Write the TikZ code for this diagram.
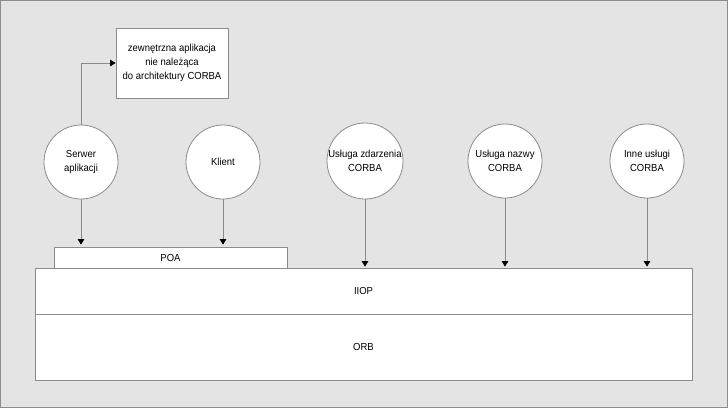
\documentclass[tikz,border=0pt]{standalone}
\usepackage{fontspec}
\setmainfont{Liberation Sans}[FakeStretch=0.93]
\usetikzlibrary{arrows.meta}
\definecolor{bgc}{HTML}{E4E4E4}
\definecolor{edgec}{HTML}{8C8C8C}
\definecolor{linec}{HTML}{8A8A8A}
\begin{document}
\begin{tikzpicture}[x=1pt,y=-1pt,
  every node/.style={font=\fontsize{10.2}{13.8}\selectfont},
  boxn/.style={draw=edgec,fill=white,inner sep=0pt,line width=0.8pt},
  circn/.style={draw=edgec,fill=white,circle,inner sep=0pt,minimum size=74pt,line width=0.8pt},
  arr/.style={draw=linec,line width=0.8pt,-{Triangle[width=6.5pt,length=5.5pt,fill=black,color=black]}},
  txt/.style={align=center,inner sep=0pt}]
\useasboundingbox (0,0) rectangle (728,408);
\draw[fill=bgc,draw=edgec,line width=1pt] (0.5,0.5) rectangle (727.5,407.5);
% external application box
\node[boxn,minimum width=112pt,minimum height=70pt,align=center] (ext) at (172,63)
  {zewnętrzna aplikacja\\nie należąca\\do architektury CORBA};
% layers
\node[boxn,minimum width=233pt,minimum height=21pt] (poa) at (170.5,257.5) {POA};
\node[boxn,minimum width=657pt,minimum height=46pt] (iiop) at (363.5,291) {IIOP};
\node[boxn,minimum width=657pt,minimum height=66pt] (orb) at (363.5,347) {ORB};
% circles
\node[circn,label={[txt]center:Serwer\\aplikacji}] (srv) at (81,162) {};
\node[circn,label={[txt]center:Klient}] (kl) at (223,162) {};
\node[circn,minimum size=76pt,label={[txt]center:Usługa zdarzenia\\CORBA}] (zd) at (365,161) {};
\node[circn,label={[txt]center:Usługa nazwy\\CORBA}] (nz) at (505,161) {};
\node[circn,label={[txt]center:Inne usługi\\CORBA}] (in) at (647,161) {};
% connectors
\draw[arr] (srv.north) |- (ext.west);
\draw[arr,shorten >=2pt] (srv.south) -- (srv.south |- poa.north);
\draw[arr,shorten >=2pt] (kl.south) -- (kl.south |- poa.north);
\draw[arr,shorten >=1pt] (zd.south) -- (zd.south |- iiop.north);
\draw[arr,shorten >=1pt] (nz.south) -- (nz.south |- iiop.north);
\draw[arr,shorten >=1pt] (in.south) -- (in.south |- iiop.north);
\end{tikzpicture}
\end{document}
